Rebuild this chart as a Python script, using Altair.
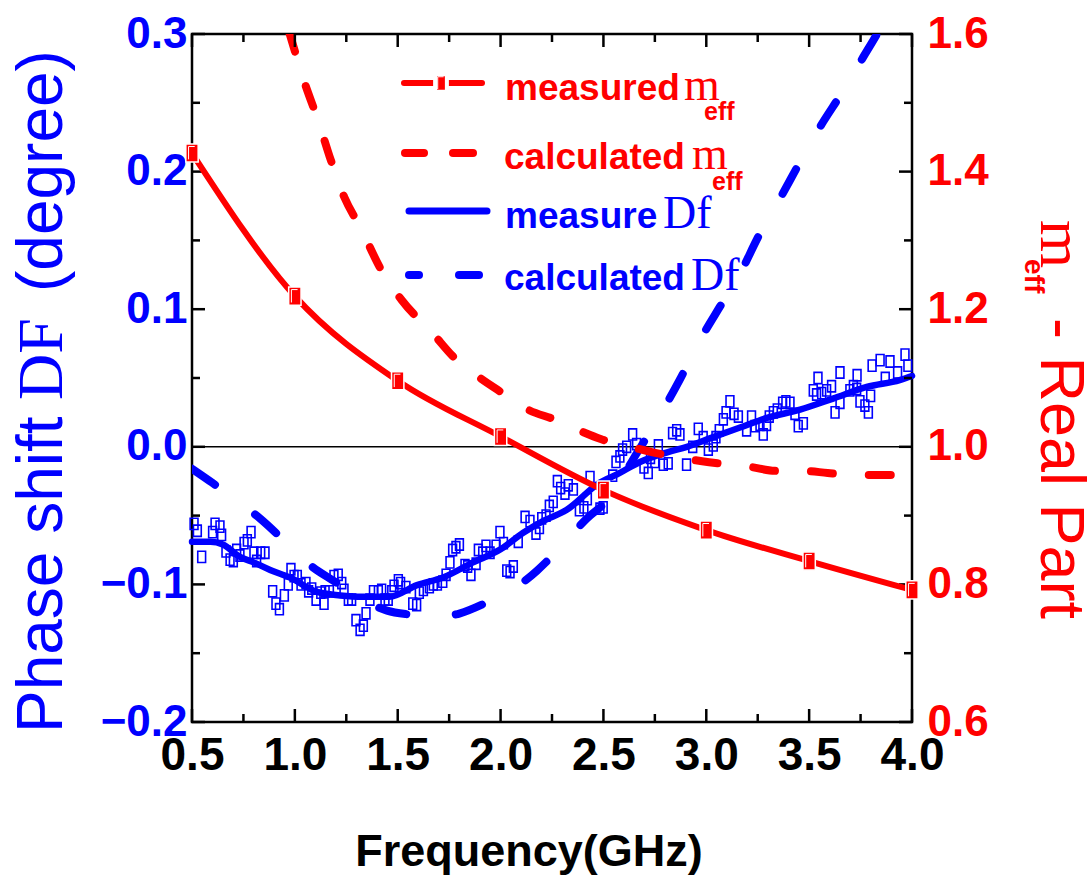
import altair as alt
import pandas as pd

# ---------------- data ----------------
x_major = [0.5, 1.0, 1.5, 2.0, 2.5, 3.0, 3.5, 4.0]
x_minor = [0.75, 1.25, 1.75, 2.25, 2.75, 3.25, 3.75]
yl_major = [-0.2, -0.1, 0.0, 0.1, 0.2, 0.3]
yl_minor = [-0.15, -0.05, 0.05, 0.15, 0.25]
yr_major = [0.6, 0.8, 1.0, 1.2, 1.4, 1.6]
yr_minor = [0.7, 0.9, 1.1, 1.3, 1.5]

# measured m_eff (red, squares)
meas_m_f = [0.5, 1.0, 1.5, 2.0, 2.5, 3.0, 3.5, 4.0]
meas_m = [1.427, 1.219, 1.096, 1.015, 0.937, 0.879, 0.834, 0.792]

# calculated m_eff (red dashed)
calc_m_f = [0.97, 1.0, 1.04, 1.12, 1.17, 1.24, 1.32, 1.42, 1.52, 1.67, 1.77, 1.9, 2.01,
            2.14, 2.26, 2.38, 2.49, 2.63, 2.74, 2.86, 2.98, 3.12, 3.21, 3.34, 3.47,
            3.59, 3.71, 3.83, 3.95, 4.0]
calc_m = [1.605, 1.575, 1.536, 1.468, 1.421, 1.363, 1.318, 1.257, 1.213, 1.165, 1.131,
          1.100, 1.078, 1.053, 1.040, 1.024, 1.011, 1.000, 0.992, 0.985, 0.979, 0.974,
          0.971, 0.965, 0.965, 0.962, 0.959, 0.959, 0.959, 0.958]

# measured phase shift, smoothed (blue solid)
meas_df_f = [0.5, 0.59, 0.65, 0.733, 0.8, 0.88, 0.976, 1.108, 1.22, 1.33, 1.46, 1.594,
             1.72, 1.866, 2.0, 2.11, 2.206, 2.32, 2.483, 2.566, 2.678, 2.81, 2.906,
             3.033, 3.164, 3.295, 3.456, 3.616, 3.78, 3.94, 4.0]
meas_df = [-0.069, -0.069, -0.071, -0.080, -0.084, -0.0895, -0.095, -0.1055, -0.108,
           -0.109, -0.109, -0.1005, -0.095, -0.084, -0.0745, -0.0625, -0.054, -0.046,
           -0.026, -0.020, -0.011, -0.004, 0.0, 0.007, 0.014, 0.021, 0.027, 0.035,
           0.0435, 0.0485, 0.0515]

# measured phase shift, raw points (blue open squares)
raw_df_f = [0.510, 0.526, 0.547, 0.600, 0.612, 0.636, 0.644, 0.665, 0.685, 0.701, 0.717,
            0.733, 0.753, 0.769, 0.787, 0.801, 0.814, 0.834, 0.855, 0.892, 0.908, 0.925,
            0.949, 0.968, 0.981, 0.996, 1.012, 1.030, 1.054, 1.067, 1.082, 1.103, 1.126,
            1.142, 1.147, 1.168, 1.190, 1.211, 1.228, 1.239, 1.260, 1.276, 1.297, 1.317,
            1.333, 1.346, 1.365, 1.382, 1.406, 1.422, 1.438, 1.454, 1.471, 1.482, 1.503,
            1.514, 1.540, 1.573, 1.592, 1.605, 1.625, 1.654, 1.673, 1.693, 1.719, 1.735,
            1.754, 1.767, 1.783, 1.800, 1.827, 1.840, 1.856, 1.881, 1.892, 1.913, 1.929,
            1.949, 1.978, 1.997, 2.014, 2.030, 2.046, 2.062, 2.086, 2.119, 2.143, 2.172,
            2.189, 2.200, 2.221, 2.237, 2.256, 2.276, 2.292, 2.313, 2.329, 2.354, 2.383,
            2.405, 2.422, 2.435, 2.483, 2.499, 2.545, 2.561, 2.580, 2.593, 2.613, 2.642,
            2.661, 2.697, 2.718, 2.729, 2.750, 2.767, 2.791, 2.815, 2.836, 2.856, 2.872,
            2.904, 2.934, 2.961, 2.985, 3.010, 3.034, 3.047, 3.063, 3.083, 3.096, 3.115,
            3.135, 3.156, 3.196, 3.220, 3.237, 3.261, 3.277, 3.293, 3.306, 3.326, 3.345,
            3.371, 3.387, 3.407, 3.431, 3.447, 3.472, 3.520, 3.536, 3.543, 3.561, 3.585,
            3.609, 3.626, 3.650, 3.650, 3.698, 3.715, 3.731, 3.733, 3.747, 3.771, 3.788,
            3.799, 3.806, 3.845, 3.870, 3.893, 3.930, 3.966, 3.980]
raw_df = [-0.056, -0.061, -0.080, -0.062, -0.056, -0.058, -0.064, -0.076, -0.082, -0.083,
          -0.075, -0.079, -0.070, -0.068, -0.062, -0.077, -0.083, -0.077, -0.077, -0.105,
          -0.114, -0.118, -0.108, -0.100, -0.089, -0.094, -0.094, -0.100, -0.099, -0.105,
          -0.103, -0.111, -0.106, -0.114, -0.105, -0.105, -0.094, -0.093, -0.099, -0.104,
          -0.111, -0.111, -0.126, -0.133, -0.130, -0.121, -0.111, -0.105, -0.105, -0.104,
          -0.111, -0.111, -0.105, -0.101, -0.097, -0.099, -0.102, -0.114, -0.115, -0.106,
          -0.104, -0.102, -0.100, -0.100, -0.098, -0.093, -0.084, -0.075, -0.073, -0.071,
          -0.086, -0.087, -0.093, -0.085, -0.075, -0.077, -0.072, -0.077, -0.072, -0.062,
          -0.070, -0.090, -0.091, -0.087, -0.069, -0.051, -0.054, -0.063, -0.059, -0.052,
          -0.050, -0.043, -0.040, -0.025, -0.030, -0.034, -0.028, -0.031, -0.046, -0.044,
          -0.038, -0.022, -0.045, -0.044, -0.021, -0.011, -0.007, -0.002, 0.000, 0.009,
          0.002, -0.015, -0.019, -0.008, -0.011, 0.001, -0.013, -0.012, 0.010, 0.012,
          0.009, -0.013, 0.000, 0.013, 0.007, -0.002, 0.001, 0.007, 0.012, 0.020, 0.025,
          0.033, 0.024, 0.022, 0.012, 0.022, 0.015, 0.016, 0.009, 0.016, 0.022, 0.025,
          0.027, 0.032, 0.033, 0.032, 0.024, 0.015, 0.017, 0.041, 0.038, 0.050, 0.039,
          0.041, 0.044, 0.025, 0.032, 0.054, 0.041, 0.044, 0.042, 0.052, 0.033, 0.030,
          0.025, 0.037, 0.059, 0.063, 0.050, 0.062, 0.054, 0.067, 0.059]

# calculated phase shift (blue dashed)
calc_df_f = [0.5, 0.597, 0.724, 0.83, 0.967, 1.074, 1.205, 1.302, 1.448, 1.56, 1.691,
             1.803, 1.934, 2.046, 2.177, 2.279, 2.42, 2.518, 2.663, 2.761, 2.872, 2.96,
             3.067, 3.154, 3.261, 3.349, 3.456, 3.543, 3.675, 3.762, 3.83, 3.86]
calc_df = [-0.016, -0.026, -0.040, -0.052, -0.071, -0.086, -0.099, -0.109, -0.119,
           -0.122, -0.124, -0.121, -0.113, -0.105, -0.090, -0.075, -0.052, -0.039,
           -0.0045, 0.0195, 0.049, 0.075, 0.102, 0.123, 0.155, 0.178, 0.207, 0.230,
           0.261, 0.283, 0.300, 0.308]

# ---------------- styles ----------------
RED = "#FF0000"
BLUE = "#0000FF"
BOLD = "Liberation Sans, Arial, sans-serif"
SANS = "Liberation Sans, Arial, sans-serif"
SERIF = "Liberation Serif, Times New Roman, serif"
W, H = 720, 688
OX, OY = 192, 34  # plot origin in page pixels

xsc = alt.Scale(domain=[0.5, 4.0], nice=False, zero=False)
ylsc = alt.Scale(domain=[-0.2, 0.3], nice=False, zero=False)
yrsc = alt.Scale(domain=[0.6, 1.6], nice=False, zero=False)

x_axis = alt.Axis(values=x_major, format=".1f", labelFont=BOLD, labelFontSize=46,
                  labelFontWeight="bold", labelColor="black", labelPadding=11,
                  ticks=False, domain=False, grid=False, title=None,
                  labelFlush=False, labelOverlap=False)
yl_axis = alt.Axis(orient="left", values=yl_major, format=".1f", labelFont=BOLD,
                   labelFontSize=44, labelFontWeight="bold", labelColor=BLUE,
                   labelPadding=5, ticks=False, domain=False, grid=False, title=None,
                   labelFlush=False, labelOverlap=False)
yr_axis = alt.Axis(orient="right", values=yr_major, format=".1f", labelFont=BOLD,
                   labelFontSize=44, labelFontWeight="bold", labelColor=RED,
                   labelPadding=15, ticks=False, domain=False, grid=False, title=None,
                   labelFlush=False, labelOverlap=False)

X = lambda: alt.X("f:Q", scale=xsc, axis=x_axis)
YL = lambda: alt.Y("v:Q", scale=ylsc, axis=yl_axis)
YR = lambda: alt.Y("v:Q", scale=yrsc, axis=yr_axis)

RECT = "M-0.68,-1L0.68,-1L0.68,1L-0.68,1Z"
HILITE = "M-0.38,0.7L-0.38,-0.72L0.3,-0.72"
OPEN = "M-0.7,-1L0.7,-1L0.7,1L-0.7,1Z"

# ---------------- left (phase shift) layers ----------------
raw = alt.Chart(pd.DataFrame({"f": raw_df_f, "v": raw_df})).mark_point(
    shape=OPEN, size=125, filled=False, color=BLUE, strokeWidth=1.6, opacity=1
).encode(x=X(), y=YL())

meas_line = alt.Chart(pd.DataFrame({"f": meas_df_f, "v": meas_df})).mark_line(
    color=BLUE, strokeWidth=6.5, strokeCap="round", interpolate="monotone"
).encode(x=X(), y=YL())

calc_line = alt.Chart(pd.DataFrame({"f": calc_df_f, "v": calc_df})).mark_line(
    color=BLUE, strokeWidth=8, strokeCap="round", strokeDash=[28, 50], clip=True,
    interpolate="monotone"
).encode(x=X(), y=YL())

zero = alt.Chart(pd.DataFrame({"v": [0.0]})).mark_rule(color="black", strokeWidth=1.5).encode(
    y=YL(), x=alt.value(0), x2=alt.value(W))

lt_major = alt.Chart(pd.DataFrame({"v": yl_major})).mark_rule(color="black", strokeWidth=2.5).encode(
    y=YL(), x=alt.value(0), x2=alt.value(13))
lt_minor = alt.Chart(pd.DataFrame({"v": yl_minor})).mark_rule(color="black", strokeWidth=2.5).encode(
    y=YL(), x=alt.value(0), x2=alt.value(8))

left = alt.layer(zero, lt_major, lt_minor, raw, meas_line, calc_line)

# ---------------- right (m_eff) layers ----------------
calc_m_line = alt.Chart(pd.DataFrame({"f": calc_m_f, "v": calc_m})).mark_line(
    color=RED, strokeWidth=8, strokeCap="round", strokeDash=[22, 36], clip=True,
    interpolate="monotone"
).encode(x=X(), y=YR())

meas_m_df = pd.DataFrame({"f": meas_m_f, "v": meas_m})
meas_m_line = alt.Chart(meas_m_df).mark_line(
    color=RED, strokeWidth=6, interpolate="monotone"
).encode(x=X(), y=YR())
meas_m_pts = alt.Chart(meas_m_df).mark_point(
    shape=RECT, size=330, filled=True, fill=RED, stroke="white", strokeWidth=1.5, opacity=1
).encode(x=X(), y=YR())
meas_m_hl = alt.Chart(meas_m_df).mark_point(
    shape=HILITE, size=330, filled=False, color="white", strokeWidth=1, opacity=1
).encode(x=X(), y=YR())

rt_major = alt.Chart(pd.DataFrame({"v": yr_major})).mark_rule(color="black", strokeWidth=2.5).encode(
    y=YR(), x=alt.value(W), x2=alt.value(W - 13))
rt_minor = alt.Chart(pd.DataFrame({"v": yr_minor})).mark_rule(color="black", strokeWidth=2.5).encode(
    y=YR(), x=alt.value(W), x2=alt.value(W - 8))

right = alt.layer(rt_major, rt_minor, calc_m_line, meas_m_line, meas_m_pts, meas_m_hl)

# ---------------- x ticks (bottom and top, inward) ----------------
def xticks(vals, length):
    d = pd.DataFrame({"f": vals})
    b = alt.Chart(d).mark_rule(color="black", strokeWidth=2.5).encode(
        x=X(), y=alt.value(H), y2=alt.value(H - length))
    t = alt.Chart(d).mark_rule(color="black", strokeWidth=2.5).encode(
        x=X(), y=alt.value(0), y2=alt.value(length))
    return [b, t]

tick_layers = xticks(x_major, 13) + xticks(x_minor, 8)


# ---------------- text & legend helpers ----------------
def txt(s, px, py, size, color, font, weight="normal", angle=0, align="left",
        baseline="alphabetic"):
    return alt.Chart(alt.Data(values=[{}])).mark_text(
        text=s, fontSize=size, color=color, font=font, fontWeight=weight,
        angle=angle, align=align, baseline=baseline
    ).encode(x=alt.value(px - OX), y=alt.value(py - OY))


def hrule(x1, x2, py, color, width):
    return alt.Chart(alt.Data(values=[{}])).mark_rule(
        color=color, strokeWidth=width, strokeCap="round"
    ).encode(x=alt.value(x1 - OX), x2=alt.value(x2 - OX), y=alt.value(py - OY))


def pt(px, py, **kw):
    return alt.Chart(alt.Data(values=[{}])).mark_point(opacity=1, **kw).encode(
        x=alt.value(px - OX), y=alt.value(py - OY))


legend = [
    hrule(404, 482, 83, RED, 6),
    pt(441, 83, shape=RECT, size=300, filled=True, fill=RED, stroke="white", strokeWidth=4),
    pt(441, 83, shape=HILITE, size=300, filled=False, color="white", strokeWidth=1),
    txt("measured", 505, 100, 37, RED, BOLD, "bold"),
    txt("m", 684, 100, 46, RED, SERIF),
    txt("eff", 704, 120, 25, RED, BOLD, "bold"),

    hrule(405, 424, 153, RED, 8),
    hrule(453, 473, 153, RED, 8),
    txt("calculated", 504, 169, 37, RED, BOLD, "bold"),
    txt("m", 692, 169, 46, RED, SERIF),
    txt("eff", 712, 190, 25, RED, BOLD, "bold"),

    hrule(409, 487, 211, BLUE, 7),
    txt("measure", 505, 228, 37, BLUE, BOLD, "bold"),
    txt("Df", 663, 228, 46, BLUE, SERIF),

    hrule(409, 419, 275, BLUE, 8),
    hrule(459, 479, 275, BLUE, 8),
    txt("calculated", 504, 290, 37, BLUE, BOLD, "bold"),
    txt("Df", 691, 290, 46, BLUE, SERIF),
]

titles = [
    # left axis title (reads bottom to top)
    txt("Phase shift", 62, 733, 64, BLUE, SANS, angle=270),
    txt("DF", 62, 400, 64, BLUE, SERIF, angle=270),
    txt("(degree)", 62, 292, 64, BLUE, SANS, angle=270),
    # right axis title (reads top to bottom)
    txt("m", 1041, 220, 62, RED, SERIF, angle=90),
    txt("eff", 1025, 259, 28, RED, BOLD, "bold", angle=90),
    txt("- Real Part", 1041, 318, 63, RED, SANS, angle=90),
    # x title
    txt("Frequency(GHz)", 529, 866, 45, "black", BOLD, "bold", align="center"),
]

main = alt.layer(left, right).resolve_scale(y="independent")

chart = alt.layer(main, *tick_layers, *legend, *titles).properties(
    width=W, height=H,
    padding={"left": OX, "top": OY, "right": 1092 - OX - W, "bottom": 879 - OY - H},
    autosize=alt.AutoSizeParams(type="none"),
    background="white",
).configure_view(stroke="black", strokeWidth=2.5)

chart.save("out.html", embed_options={"renderer": "svg", "actions": False})
